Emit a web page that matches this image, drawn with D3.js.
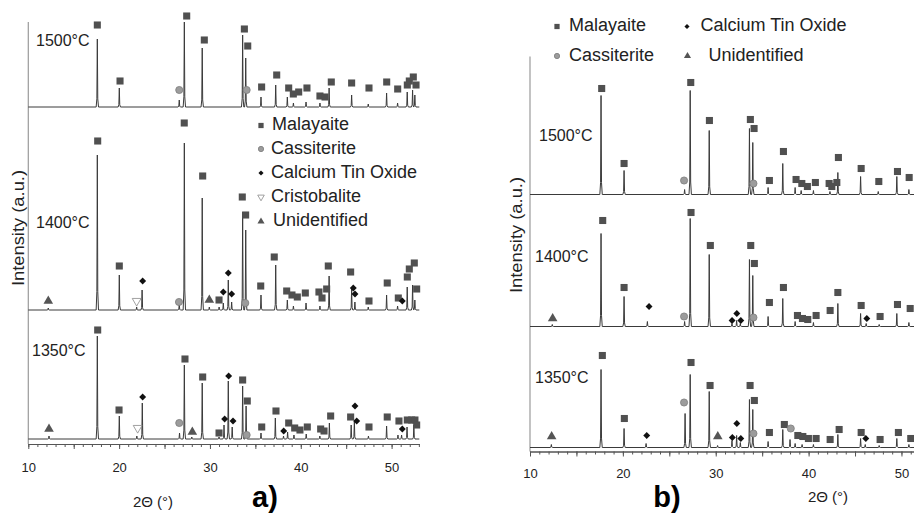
<!DOCTYPE html>
<html>
<head>
<meta charset="utf-8">
<script src="https://cdn.jsdelivr.net/npm/d3@7"></script>
<style>
  body { margin: 0; background: #fff; }
  svg { display: block; font-family: "Liberation Sans", Arial, sans-serif; }
</style>
</head>
<body>
<svg id="chart" width="914" height="515"></svg>
<script>
// ---------- data ----------
// Peak lists: [2θ (°), peak height above the pattern baseline (a.u.)]
// Marker lists: [2θ (°), marker height above baseline (a.u.), phase code]
// Phase codes: M Malayaite, C Cassiterite, T Calcium Tin Oxide, X Cristobalite, U Unidentified
const temperatures = ["1350°C", "1400°C", "1500°C"];
const phasesA = ["Malayaite", "Cassiterite", "Calcium Tin Oxide", "Cristobalite", "Unidentified"];
const phaseCodesA = ["M", "C", "T", "X", "U"];
const phasesB = ["Malayaite", "Calcium Tin Oxide", "Cassiterite", "Unidentified"];
const phaseCodesB = ["M", "T", "C", "U"];
const xLabelTicks = [10, 20, 30, 40, 50];

// panel a) stacking offsets of the 1350, 1400, 1500 °C patterns
const offsetsA = [5, 134, 337];
const peaksA1350 = [[12.28,3],[17.60,103],[20.02,23],[21.95,3],[22.55,36],[26.65,6],[27.18,74],[28.00,2],[29.15,56],[31.00,2],[31.55,14],[32.02,58],[32.45,12],[33.60,53],[33.98,33],[35.62,6],[37.20,21],[38.10,3],[38.55,7],[39.25,4],[40.60,5],[42.10,3],[43.15,16],[45.55,14],[45.90,18],[47.45,3],[49.45,13],[50.70,4],[51.10,4],[51.70,12],[52.45,14]];
const markersA1350 = [[12.28,10,"U"],[17.64,109,"M"],[19.99,29,"M"],[22.04,11,"X"],[22.59,42,"T"],[26.62,16,"C"],[27.25,80,"M"],[28.06,7,"U"],[29.20,62,"M"],[31.00,6,"M"],[31.62,20,"T"],[32.06,63,"T"],[32.54,18,"T"],[33.60,59,"M"],[34.11,38,"M"],[34.04,4,"C"],[35.70,12,"M"],[37.27,28,"M"],[38.12,8,"T"],[38.67,16,"M"],[39.33,11,"M"],[39.91,9,"M"],[40.72,12,"M"],[42.19,10,"M"],[42.56,8,"M"],[43.29,23,"M"],[45.49,22,"M"],[45.97,33,"T"],[46.16,18,"T"],[47.51,12,"M"],[49.52,22,"M"],[50.81,18,"M"],[51.18,10,"T"],[51.73,19,"M"],[52.21,19,"M"],[52.57,19,"M"],[52.76,14,"M"]];
const peaksA1400 = [[12.20,2],[17.60,155],[20.02,35],[21.93,3],[22.53,20],[26.62,6],[27.18,167],[29.15,112],[29.93,3],[31.01,3],[31.47,7],[32.02,30],[32.39,8],[33.60,98],[33.94,80],[35.62,15],[37.24,45],[38.52,10],[39.19,4],[40.58,7],[42.11,4],[43.12,34],[45.60,22],[45.96,8],[47.43,3],[49.45,15],[50.66,4],[51.72,23],[52.31,25],[52.56,10]];
const markersA1400 = [[12.20,9,"U"],[17.64,169,"M"],[20.02,44,"M"],[21.93,9,"X"],[22.59,29,"T"],[26.59,8,"C"],[27.17,187,"M"],[29.20,134,"M"],[29.93,10,"U"],[31.00,10,"M"],[31.47,18,"T"],[32.02,37,"T"],[32.39,16,"T"],[33.56,113,"M"],[33.93,95,"M"],[33.89,7,"C"],[35.59,24,"M"],[37.08,53,"M"],[38.45,19,"M"],[39.03,15,"M"],[39.62,13,"M"],[40.50,17,"M"],[42.00,18,"M"],[42.34,12,"M"],[42.85,21,"M"],[43.03,44,"M"],[45.49,38,"M"],[45.78,22,"T"],[45.97,16,"T"],[47.51,9,"M"],[49.52,27,"M"],[50.74,12,"M"],[51.18,9,"T"],[51.73,33,"M"],[51.95,41,"M"],[52.50,47,"M"],[52.76,21,"M"]];
const peaksA1500 = [[17.60,68],[20.02,19],[26.62,7],[27.18,85],[29.15,59],[33.60,72],[33.94,49],[35.62,10],[37.24,22],[38.52,10],[39.19,4],[40.58,5],[42.11,4],[43.12,19],[45.60,12],[47.43,3],[49.45,14],[50.66,4],[51.72,15],[52.31,17],[52.56,12]];
const markersA1500 = [[17.60,82,"M"],[20.10,26,"M"],[26.62,17,"C"],[27.44,91,"M"],[29.38,67,"M"],[33.79,78,"M"],[34.16,61,"M"],[34.04,17,"C"],[35.69,20,"M"],[37.35,32,"M"],[38.67,19,"M"],[39.18,13,"M"],[39.77,15,"M"],[40.68,19,"M"],[42.11,11,"M"],[42.67,10,"M"],[43.36,25,"M"],[45.60,24,"M"],[47.51,19,"M"],[49.46,25,"M"],[50.67,18,"M"],[51.73,22,"M"],[51.95,26,"M"],[52.39,30,"M"],[52.69,22,"M"]];

// panel b) stacking offsets of the 1350, 1400, 1500 °C patterns
const offsetsB = [4, 125, 257];
const peaksB1350 = [[12.30,3],[17.65,78],[20.13,19],[22.50,4],[26.70,34],[27.25,73],[29.30,56],[30.20,2],[31.75,7],[32.25,12],[32.65,5],[33.63,48],[33.99,38],[35.64,6],[37.22,18],[38.00,8],[38.55,4],[39.30,3],[40.52,3],[43.15,13],[45.60,9],[46.10,3],[47.60,2],[49.50,9],[50.80,3]];
const markersB1350 = [[12.33,11,"U"],[17.79,92,"M"],[20.16,29,"M"],[22.57,12,"T"],[26.59,45,"C"],[27.34,85,"M"],[29.39,62,"M"],[30.22,11,"U"],[31.79,10,"T"],[32.27,24,"T"],[32.70,9,"T"],[33.70,62,"M"],[34.16,47,"M"],[34.06,14,"C"],[35.78,15,"M"],[37.39,23,"M"],[38.08,19,"C"],[38.84,12,"M"],[39.38,11,"M"],[39.98,9,"M"],[40.81,9,"M"],[42.32,8,"M"],[43.29,18,"M"],[45.66,15,"M"],[46.16,9,"T"],[47.70,8,"M"],[49.67,15,"M"],[51.00,9,"M"]];
const peaksB1400 = [[12.40,2],[17.65,93],[20.13,30],[22.64,5],[26.65,5],[27.25,108],[29.30,72],[31.75,3],[32.25,6],[32.65,3],[33.63,67],[33.99,51],[35.64,10],[37.22,28],[38.55,5],[40.52,4],[43.15,23],[45.60,13],[46.20,3],[47.60,2],[49.50,13],[50.80,4]];
const markersB1400 = [[12.44,8,"U"],[17.83,106,"M"],[20.13,39,"M"],[22.82,20,"T"],[26.59,10,"C"],[27.34,114,"M"],[29.42,81,"M"],[31.76,6,"T"],[32.27,13,"T"],[32.70,6,"T"],[33.77,81,"M"],[34.16,63,"M"],[34.06,9,"C"],[35.78,24,"M"],[37.29,39,"M"],[38.80,11,"M"],[39.34,8,"M"],[39.91,7,"M"],[40.81,11,"M"],[42.32,16,"M"],[43.15,34,"M"],[45.66,21,"M"],[46.27,8,"T"],[47.70,10,"M"],[49.57,22,"M"],[50.94,18,"M"]];
const peaksB1500 = [[17.65,99],[20.13,24],[26.65,5],[27.25,104],[29.30,64],[33.63,66],[33.99,52],[35.64,7],[37.22,31],[38.55,7],[39.20,4],[40.52,4],[42.30,3],[43.15,22],[45.60,18],[47.50,3],[49.50,18],[50.80,5]];
const markersB1500 = [[17.72,106,"M"],[20.13,31,"M"],[26.59,14,"C"],[27.31,112,"M"],[29.32,74,"M"],[33.73,75,"M"],[34.13,66,"M"],[34.06,11,"C"],[35.78,14,"M"],[37.29,43,"M"],[38.65,15,"M"],[39.27,11,"M"],[39.87,8,"M"],[40.73,12,"M"],[42.21,11,"M"],[42.50,8,"M"],[43.04,12,"M"],[43.21,37,"M"],[45.66,26,"M"],[47.56,13,"M"],[49.57,23,"M"],[50.83,17,"M"]];

// ---------- drawing ----------
const svg = d3.select("#chart");
const textColor = "#222";

const markerStyle = {
  M: { type: d3.symbolSquare,   size: 50, fill: "#505050", stroke: "none", rot: 0 },
  C: { type: d3.symbolCircle,   size: 40, fill: "#9c9c9c", stroke: "#7c7c7c", rot: 0 },
  T: { type: d3.symbolSquare,   size: 24, fill: "#111",    stroke: "none", rot: 45 },
  X: { type: d3.symbolTriangle, size: 34, fill: "#fff",    stroke: "#8a8a8a", rot: 180 },
  U: { type: d3.symbolTriangle, size: 40, fill: "#555",    stroke: "none", rot: 0 }
};

function drawMarker(g, code, x, y, scale) {
  const st = markerStyle[code];
  g.append("path")
    .attr("d", d3.symbol().type(st.type).size(st.size * scale)())
    .attr("transform", `translate(${x},${y}) rotate(${st.rot})`)
    .attr("fill", st.fill)
    .attr("stroke", st.stroke)
    .attr("stroke-width", 0.8);
}

// a narrow spike for each reflection on a flat baseline
function profile(peaks, x0, x1) {
  const pts = [[x0, 0]];
  peaks.slice().sort((a, b) => a[0] - b[0]).forEach(([t, h]) => {
    pts.push([t - 0.13, 0], [t - 0.05, h * 0.12], [t, h], [t + 0.05, h * 0.12], [t + 0.13, 0]);
  });
  pts.push([x1, 0]);
  return pts;
}

function drawPanel(cfg) {
  const g = svg.append("g");
  const x = d3.scaleLinear().domain(cfg.xDomain).range(cfg.xRange);
  const y = d3.scaleLinear().domain(cfg.yDomain).range(cfg.yRange);

  // y axis (plain line)
  g.append("line")
    .attr("x1", x(cfg.xDomain[0])).attr("x2", x(cfg.xDomain[0]))
    .attr("y1", y(cfg.yDomain[0])).attr("y2", y(cfg.yDomain[1]))
    .attr("stroke", "#9a9a9a").attr("stroke-width", 1.2);

  // patterns
  cfg.patterns.forEach((p, i) => {
    const off = cfg.offsets[i];
    const line = d3.line().x(d => x(d[0])).y(d => y(off + d[1]));
    g.append("path")
      .datum(profile(p.peaks, cfg.xDomain[0], cfg.xDomain[1]))
      .attr("d", line)
      .attr("fill", "none")
      .attr("stroke", "#3a3a3a")
      .attr("stroke-width", 1);
    p.markers.forEach(m => drawMarker(g, m[2], x(m[0]), y(off + m[1]), 1));
    g.append("text")
      .attr("x", cfg.tempPos[i][0]).attr("y", cfg.tempPos[i][1])
      .attr("dominant-baseline", "middle")
      .attr("font-size", 16).attr("fill", textColor)
      .text(temperatures[i]);
  });

  // x axis: minor ticks every 1°, major every 5°, labels every 10°
  const axisY = y(0);
  const minor = d3.range(10, cfg.xDomain[1] + 0.001, 1);
  g.append("g").attr("transform", `translate(0,${axisY})`)
    .call(d3.axisBottom(x).tickValues(minor).tickSize(3).tickSizeOuter(0).tickFormat(""))
    .call(a => a.selectAll("path,line").attr("stroke", "#555"));
  const major = d3.range(10, cfg.xDomain[1] + 0.001, 5);
  g.append("g").attr("transform", `translate(0,${axisY})`)
    .call(d3.axisBottom(x).tickValues(major).tickSize(5).tickSizeOuter(0)
      .tickFormat(d => xLabelTicks.includes(d) ? d : ""))
    .call(a => {
      a.select(".domain").attr("stroke", "#555");
      a.selectAll("line").attr("stroke", "#555");
      a.selectAll("text").attr("y", cfg.tickLabelDy).attr("dy", 0)
        .attr("font-size", 13).attr("fill", textColor)
        .attr("font-family", "Liberation Sans, Arial, sans-serif");
    });

  // axis titles and panel letter
  g.append("text")
    .attr("x", cfg.xTitle[0]).attr("y", cfg.xTitle[1])
    .attr("text-anchor", "middle").attr("font-size", 15).attr("fill", textColor)
    .text("2Θ (°)");
  g.append("text")
    .attr("transform", `translate(${cfg.yTitle[0]},${cfg.yTitle[1]}) rotate(-90)`)
    .attr("text-anchor", "middle").attr("dominant-baseline", "middle")
    .attr("font-size", 16).attr("fill", textColor)
    .attr("textLength", 116).attr("lengthAdjust", "spacingAndGlyphs")
    .text("Intensity (a.u.)");
  g.append("text")
    .attr("x", cfg.letter[0]).attr("y", cfg.letter[1])
    .attr("text-anchor", "middle").attr("font-size", 29).attr("font-weight", "bold")
    .attr("fill", "#000")
    .text(cfg.letterText);

  // legend
  cfg.legend.forEach(l => {
    drawMarker(g, l.code, l.mx, l.y, 0.55);
    g.append("text")
      .attr("x", l.tx).attr("y", l.y)
      .attr("dominant-baseline", "middle")
      .attr("font-size", 18).attr("fill", textColor)
      .text(l.label);
  });
}

const legendAY = [125.5, 149, 173, 197, 221.5];
const legendATx = [272, 271, 271, 271, 273];
drawPanel({
  xDomain: [10, 53.05], xRange: [28.3, 419.3],
  yDomain: [0, 422], yRange: [444, 22],
  offsets: offsetsA,
  patterns: [
    { peaks: peaksA1350, markers: markersA1350 },
    { peaks: peaksA1400, markers: markersA1400 },
    { peaks: peaksA1500, markers: markersA1500 }
  ],
  tempPos: [[32, 352], [36, 224], [36, 42]],
  tickLabelDy: 27.5,
  xTitle: [153, 507],
  yTitle: [20, 228],
  letter: [265, 507], letterText: "a)",
  legend: phasesA.map((p, i) => ({ code: phaseCodesA[i], label: p, mx: 261, tx: legendATx[i], y: legendAY[i] }))
});

const legendBPos = [[557, 569, 26.5], [687, 700.5, 26.5], [557, 569, 56], [687.5, 708.5, 56]];
drawPanel({
  xDomain: [10, 51.35], xRange: [530, 914],
  yDomain: [0, 395], yRange: [451.5, 56.5],
  offsets: offsetsB,
  patterns: [
    { peaks: peaksB1350, markers: markersB1350 },
    { peaks: peaksB1400, markers: markersB1400 },
    { peaks: peaksB1500, markers: markersB1500 }
  ],
  tempPos: [[535, 379], [535, 258], [539, 137]],
  tickLabelDy: 26,
  xTitle: [828, 502],
  yTitle: [518, 235],
  letter: [667, 507], letterText: "b)",
  legend: phasesB.map((p, i) => ({ code: phaseCodesB[i], label: p, mx: legendBPos[i][0], tx: legendBPos[i][1], y: legendBPos[i][2] }))
});
</script>
</body>
</html>
